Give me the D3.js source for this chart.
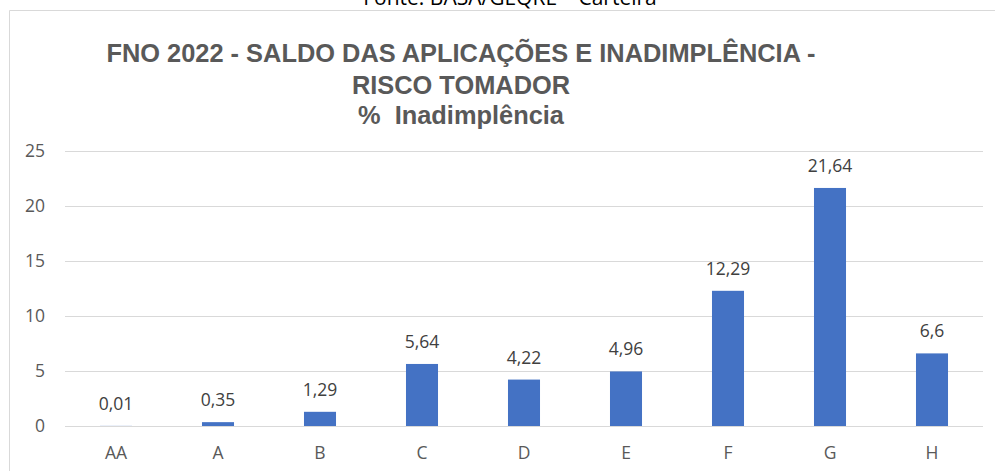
<!DOCTYPE html>
<html>
<head>
<meta charset="utf-8">
<script src="https://cdn.jsdelivr.net/npm/d3@7"></script>
<style>
  body { margin: 0; background: #fff; }
  text { font-family: 'Open Sans', 'Noto Sans', sans-serif; }
</style>
</head>
<body>
<div id="chart"></div>
<script>
var categories = ['AA', 'A', 'B', 'C', 'D', 'E', 'F', 'G', 'H']
var values = [0.01, 0.35, 1.29, 5.64, 4.22, 4.96, 12.29, 21.64, 6.6]
var yTicks = [0, 5, 10, 15, 20, 25]
var titleLines = ['FNO 2022 - SALDO DAS APLICAÇÕES E INADIMPLÊNCIA -', 'RISCO TOMADOR', '%  Inadimplência']
var sourceText = 'Fonte: BASA/GEQRE – Carteira'

var width = 995
var height = 471
var plotLeft = 65
var plotRight = 983
var plotTop = 151
var plotBottom = 426

var fmt = function (v) { return String(v).replace('.', ',') }

var svg = d3.select('#chart').append('svg')
  .attr('width', width)
  .attr('height', height)

// source line, cut off at the top
svg.append('text')
  .attr('x', 510)
  .attr('y', 5)
  .attr('text-anchor', 'middle')
  .style('font-size', '21px')
  .style('fill', '#000')
  .text(sourceText)

// chart frame
svg.append('path')
  .attr('d', 'M9.5,' + height + 'V10.5H' + width)
  .attr('fill', 'none')
  .attr('stroke', '#d9d9d9')
  .attr('stroke-width', 1)

var x = d3.scaleBand()
  .domain(categories)
  .range([plotLeft, plotRight])
  .paddingInner(0.686)
  .paddingOuter(0.343)

var y = d3.scaleLinear()
  .domain([0, 25])
  .range([plotBottom, plotTop])

// gridlines
svg.append('g')
  .selectAll('line')
  .data(yTicks)
  .join('line')
  .attr('x1', plotLeft)
  .attr('x2', plotRight)
  .attr('y1', function (d) { return Math.round(y(d)) + 0.5 })
  .attr('y2', function (d) { return Math.round(y(d)) + 0.5 })
  .attr('stroke', '#d9d9d9')
  .attr('stroke-width', 1)

var yAxis = d3.axisLeft(y).tickValues(yTicks).tickSize(0).tickPadding(0)
svg.append('g')
  .attr('class', 'y axis')
  .attr('transform', 'translate(45,0)')
  .call(yAxis)
  .call(function (g) { g.select('.domain').remove() })
  .selectAll('text')
  .style('font-size', '17.5px')
  .style('fill', '#595959')
  .style('font-family', "'Open Sans', 'Noto Sans', sans-serif")

var xAxis = d3.axisBottom(x).tickSize(0).tickPadding(0)
svg.append('g')
  .attr('class', 'x axis')
  .attr('transform', 'translate(0,' + (plotBottom + 21) + ')')
  .call(xAxis)
  .call(function (g) { g.select('.domain').remove() })
  .selectAll('text')
  .style('font-size', '17.5px')
  .style('fill', '#595959')
  .style('font-family', "'Open Sans', 'Noto Sans', sans-serif")

// bars
svg.append('g')
  .selectAll('rect')
  .data(values)
  .join('rect')
  .attr('x', function (d, i) { return x(categories[i]) })
  .attr('y', function (d) { return y(d) })
  .attr('width', x.bandwidth())
  .attr('height', function (d) { return y(0) - y(d) })
  .attr('fill', '#4472c4')

// data labels
svg.append('g')
  .selectAll('text')
  .data(values)
  .join('text')
  .attr('x', function (d, i) { return x(categories[i]) + x.bandwidth() / 2 })
  .attr('y', function (d) { return y(d) - 16 })
  .attr('text-anchor', 'middle')
  .style('font-size', '17.5px')
  .style('fill', '#404040')
  .text(fmt)

// title
var titleY = [62, 94, 124]
svg.append('g')
  .selectAll('text')
  .data(titleLines)
  .join('text')
  .attr('x', 461)
  .attr('y', function (d, i) { return titleY[i] })
  .attr('text-anchor', 'middle')
  .style('white-space', 'pre')
  .style('font-family', "'Liberation Sans', Arial, sans-serif")
  .style('font-weight', 'bold')
  .style('font-size', '25.4px')
  .style('fill', '#595959')
  .text(function (d) { return d })
</script>
</body>
</html>
